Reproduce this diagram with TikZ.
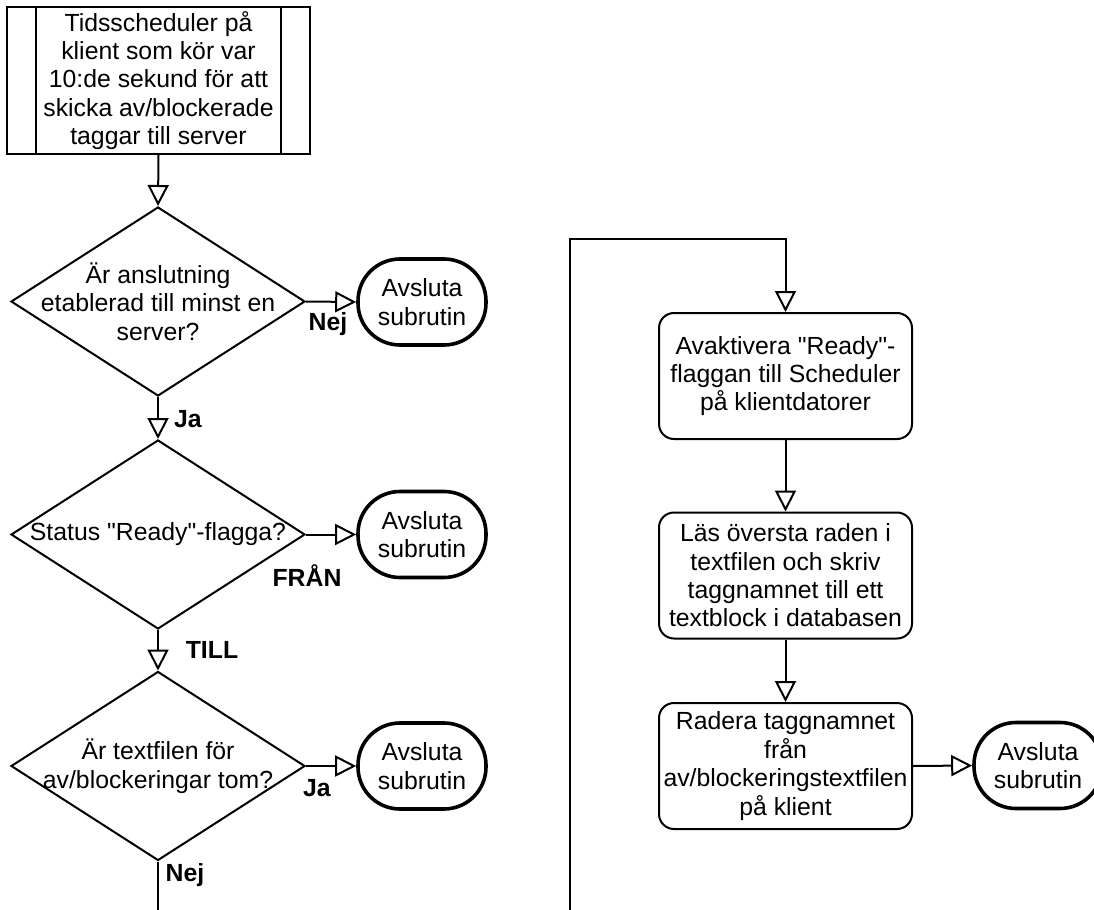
\documentclass[tikz,border=0pt]{standalone}
\usepackage{fontspec}
\setmainfont{Liberation Sans}[Ligatures=TeXOff]
\usetikzlibrary{shapes.geometric,arrows.meta,calc}
\begin{document}
\begin{tikzpicture}[x=0.5pt,y=-0.5pt,
  every node/.style={font=\fontsize{12.4}{14.2}\selectfont},
  titlebox/.style={draw, line width=1pt, minimum width=151.5pt, minimum height=73.5pt, inner sep=0pt, align=center},
  decision/.style={draw, diamond, line width=1pt, minimum width=147pt, minimum height=94.5pt, inner sep=0pt},
  dtext/.style={align=center, inner sep=0pt},
  terminal/.style={draw, line width=1.8pt, rounded corners=21pt, minimum width=64pt, minimum height=43pt, align=center, inner sep=0pt},
  process/.style={draw, line width=1pt, rounded corners=7.5pt, minimum width=126.5pt, minimum height=63pt, align=center, inner sep=0pt},
  flow/.style={line width=1pt, -{Triangle[open, length=10.5pt, width=10.5pt]}},
  plain/.style={line width=1pt},
  lbl/.style={font=\bfseries\fontsize{12.4}{14.2}\selectfont, anchor=base, inner sep=0pt}
]
\useasboundingbox (0,0) rectangle (1094,910);

% left column
\node[titlebox] (title) at (158.5,80.5) {Tidsscheduler på\\klient som kör var\\10:de sekund för att\\skicka av/blockerade\\taggar till server};
\draw[plain] ($(title.north west)+(30,0)$) -- ($(title.south west)+(30,0)$);
\draw[plain] ($(title.north east)+(-30,0)$) -- ($(title.south east)+(-30,0)$);

\node[decision] (d1) at (158,301.5) {};
\node[dtext] (d1t) at (d1.center) {Är anslutning\\etablerad till minst en\\server?};
\node[decision] (d2) at (158,534.5) {};
\node[dtext] (d2t) at (d2.center) {Status "Ready"-flagga?};
\node[decision] (d3) at (158,766) {};
\node[dtext] (d3t) at (d3.center) {Är textfilen för\\av/blockeringar tom?};

\node[terminal] (a1) at (422,302) {Avsluta\\subrutin};
\node[terminal] (a2) at (422,534.5) {Avsluta\\subrutin};
\node[terminal] (a3) at (422,766) {Avsluta\\subrutin};

% right column
\node[process] (b1) at (785.5,376) {Avaktivera "Ready"-\\flaggan till Scheduler\\på klientdatorer};
\node[process] (b2) at (785.5,575.5) {Läs översta raden i\\textfilen och skriv\\taggnamnet till ett\\textblock i databasen};
\node[process] (b3) at (785.5,766) {Radera taggnamnet\\från\\av/blockeringstextfilen\\på klient};
\node[terminal] (a4) at (1038,765.5) {Avsluta\\subrutin};

\coordinate (e1) at (158,910);
\coordinate (e2) at (570,910);
\coordinate (ctop) at (570,239);

% connectors
\draw[flow] (title.south) -- (d1.north);
\draw[flow] (d1.east) -- (a1.west);
\draw[flow] (d1.south) -- (d2.north);
\draw[flow] (d2.east) -- (a2.west);
\draw[flow] (d2.south) -- (d3.north);
\draw[flow] (d3.east) -- (a3.west);
\draw[plain] (d3.south) -- (e1);
\draw[flow] (e2) -- (ctop) -| (b1.north);
\draw[flow] (b1.south) -- (b2.north);
\draw[flow] (b2.south) -- (b3.north);
\draw[flow] (b3.east) -- (a4.west);

% labels
\node[lbl] (l1) at (328,330) {Nej};
\node[lbl] (l2) at (188,427) {Ja};
\node[lbl] (l3) at (307,586) {FRÅN};
\node[lbl] (l4) at (212,658) {TILL};
\node[lbl] (l5) at (317,796) {Ja};
\node[lbl] (l6) at (185,881) {Nej};
\end{tikzpicture}
\end{document}
